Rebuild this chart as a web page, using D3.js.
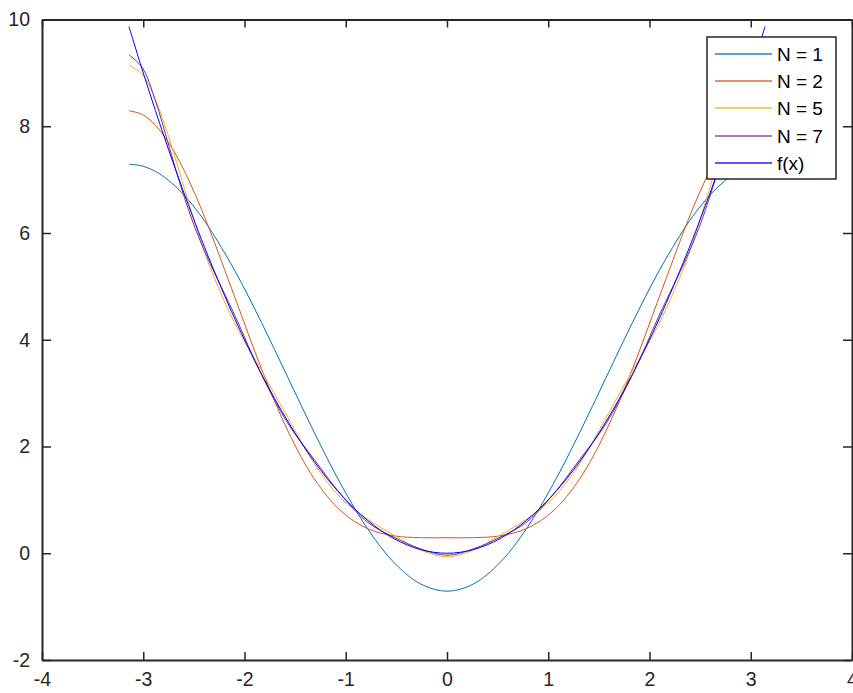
<!DOCTYPE html>
<html>
<head>
<meta charset="utf-8">
<script src="https://cdn.jsdelivr.net/npm/d3@7"></script>
<style>
  body { margin: 0; background: #fff; }
  svg { display: block; font-family: "Liberation Sans", Arial, sans-serif; }
</style>
</head>
<body>
<div id="chart"></div>
<script>
// sample points along x (step pi/12, with extra points near the ends)
const xs = [-3.1416, -3.0107, -2.8798, -2.7489, -2.618, -2.4871, -2.3562, -2.0944, -1.8326, -1.5708, -1.309, -1.0472, -0.7854, -0.5236, -0.2618, 0,
  0.2618, 0.5236, 0.7854, 1.0472, 1.309, 1.5708, 1.8326, 2.0944, 2.3562, 2.4871, 2.618, 2.7489, 2.8798, 3.0107, 3.1416];

const n1 = [7.290, 7.256, 7.154, 6.985, 6.754, 6.463, 6.118, 5.290, 4.325, 3.290, 2.255, 1.290, 0.462, -0.174, -0.574, -0.710,
  -0.574, -0.174, 0.462, 1.290, 2.255, 3.290, 4.325, 5.290, 6.118, 6.463, 6.754, 6.985, 7.154, 7.256, 7.290];
const n2 = [8.290, 8.222, 8.020, 7.693, 7.254, 6.722, 6.118, 4.790, 3.459, 2.290, 1.389, 0.790, 0.462, 0.326, 0.292, 0.290,
  0.292, 0.326, 0.462, 0.790, 1.389, 2.290, 3.459, 4.790, 6.118, 6.722, 7.254, 7.693, 8.020, 8.222, 8.290];
const n5 = [9.144, 8.976, 8.500, 7.801, 6.990, 6.177, 5.441, 4.301, 3.424, 2.540, 1.673, 1.029, 0.639, 0.339, 0.062, -0.065,
  0.062, 0.339, 0.639, 1.029, 1.673, 2.540, 3.424, 4.301, 5.441, 6.177, 6.990, 7.801, 8.500, 8.976, 9.144];
const n7 = [9.337, 9.104, 8.479, 7.647, 6.809, 6.088, 5.499, 4.452, 3.346, 2.429, 1.752, 1.100, 0.581, 0.299, 0.083, -0.035,
  0.083, 0.299, 0.581, 1.100, 1.752, 2.429, 3.346, 4.452, 5.499, 6.088, 6.809, 7.647, 8.479, 9.104, 9.337];
const fx = [9.870, 9.064, 8.293, 7.557, 6.854, 6.186, 5.552, 4.386, 3.358, 2.467, 1.713, 1.097, 0.617, 0.274, 0.069, 0,
  0.069, 0.274, 0.617, 1.097, 1.713, 2.467, 3.358, 4.386, 5.552, 6.186, 6.854, 7.557, 8.293, 9.064, 9.870];

const seriesNames = ["N = 1", "N = 2", "N = 5", "N = 7", "f(x)"];
const seriesColors = ["#0072bd", "#d95319", "#edb120", "#7e2f8e", "#0000ff"];
const seriesValues = [n1, n2, n5, n7, fx];

const xTicks = [-4, -3, -2, -1, 0, 1, 2, 3, 4];
const yTicks = [-2, 0, 2, 4, 6, 8, 10];

const W = 853, H = 693;
const margin = { left: 42, right: 852, top: 19.5, bottom: 660 };
const axisColor = "#262626";

const svg = d3.select("#chart").append("svg")
  .attr("width", W).attr("height", H);

const x = d3.scaleLinear().domain([-4, 4]).range([margin.left, margin.right]);
const y = d3.scaleLinear().domain([-2, 10]).range([margin.bottom, margin.top]);

// curves
const line = d3.line()
  .x((d, i) => x(xs[i]))
  .y(d => y(d))
  .curve(d3.curveCatmullRom.alpha(0.5));

svg.append("g")
  .selectAll("path")
  .data(seriesValues)
  .join("path")
  .attr("d", d => line(d))
  .attr("fill", "none")
  .attr("stroke", (d, i) => seriesColors[i])
  .attr("stroke-width", 1);

// axes, ticks inward on all four sides
const fmt = d => String(d); // plain hyphen minus like the original
const axes = svg.append("g");
const xAxisG = axes.append("g").attr("transform", `translate(0,${margin.bottom})`)
  .call(d3.axisBottom(x).tickValues(xTicks).tickFormat(fmt).tickSizeInner(-8).tickSizeOuter(0).tickPadding(12));
axes.append("g").attr("transform", `translate(0,${margin.top})`)
  .call(d3.axisTop(x).tickValues(xTicks).tickSizeInner(-8).tickSizeOuter(0).tickFormat(""));
axes.append("g").attr("transform", `translate(${margin.left},0)`)
  .call(d3.axisLeft(y).tickValues(yTicks).tickFormat(fmt).tickSizeInner(-9).tickSizeOuter(0).tickPadding(12));
axes.append("g").attr("transform", `translate(${margin.right},0)`)
  .call(d3.axisRight(y).tickValues(yTicks).tickSizeInner(-9).tickSizeOuter(0).tickFormat(""));

axes.selectAll(".domain").attr("stroke", axisColor).attr("stroke-width", 2);
axes.selectAll(".tick line").attr("stroke", axisColor).attr("stroke-width", 1.5);
axes.selectAll(".tick text")
  .attr("fill", "#262626")
  .style("font-size", "19.5px");
xAxisG.selectAll(".tick text").attr("dy", "0.71em");

// legend
const lg = svg.append("g").attr("transform", "translate(707,37)");
lg.append("rect")
  .attr("width", 129).attr("height", 142)
  .attr("fill", "#fff").attr("stroke", axisColor).attr("stroke-width", 1.5);

const row = lg.selectAll(".row")
  .data(seriesNames)
  .join("g")
  .attr("class", "row")
  .attr("transform", (d, i) => `translate(0,${Math.round(17 + i * 27.2)})`);

row.append("line")
  .attr("x1", 8).attr("x2", 65)
  .attr("stroke", (d, i) => seriesColors[i])
  .attr("stroke-width", 2)
  .attr("stroke-opacity", 0.65);

row.append("text")
  .attr("x", 70).attr("dy", "0.35em")
  .attr("fill", "#000")
  .style("font-size", "19px")
  .text(d => d);
</script>
</body>
</html>
